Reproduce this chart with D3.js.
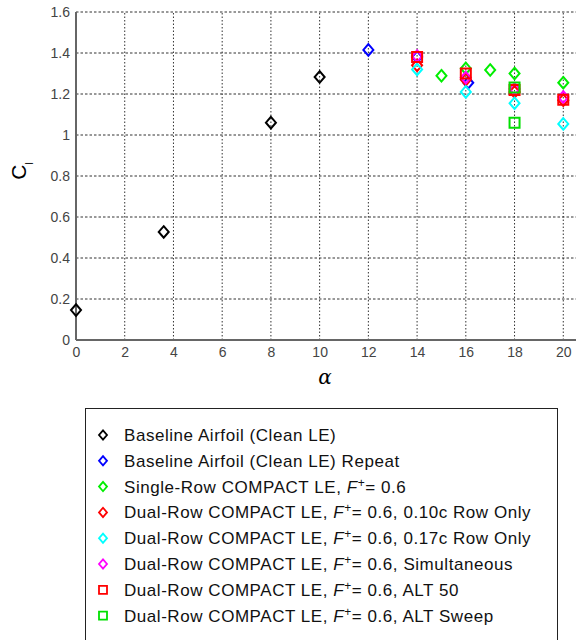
<!DOCTYPE html>
<html><head><meta charset="utf-8">
<script src="https://cdn.jsdelivr.net/npm/d3@7"></script>
<style>body{margin:0;background:#fff;} svg{display:block;}</style>
</head><body>
<script>
// ---- data ----
const xTicks = [0,2,4,6,8,10,12,14,16,18,20];
const yTicks = [0,0.2,0.4,0.6,0.8,1,1.2,1.4,1.6];
const yTickLabels = ["0","0.2","0.4","0.6","0.8","1","1.2","1.4","1.6"];

const baseline      = [[0,0.146],[3.6,0.527],[8,1.06],[10,1.283]];
const baselineRep   = [[12,1.415],[14,1.38],[16.1,1.255]];
const singleRow     = [[15,1.289],[16,1.325],[17,1.317],[18,1.30],[20,1.255]];
const dual010       = [[14,1.34],[16,1.27],[18,1.21],[20,1.17]];
const dual017       = [[14,1.32],[16,1.21],[18,1.155],[20,1.054]];
const dualSim       = [[14,1.385],[16,1.28],[18,1.225],[20,1.185]];
const alt50         = [[14,1.38],[16,1.30],[18,1.22],[20,1.172]];
const altSweep      = [[18,1.232],[18,1.06]];

const seriesNames = [
  "Baseline Airfoil (Clean LE)",
  "Baseline Airfoil (Clean LE) Repeat",
  "Single-Row COMPACT LE, |F|= 0.6",
  "Dual-Row COMPACT LE, |F|= 0.6, 0.10c Row Only",
  "Dual-Row COMPACT LE, |F|= 0.6, 0.17c Row Only",
  "Dual-Row COMPACT LE, |F|= 0.6, Simultaneous",
  "Dual-Row COMPACT LE, |F|= 0.6, ALT 50",
  "Dual-Row COMPACT LE, |F|= 0.6, ALT Sweep"
];
const seriesData = [baseline, baselineRep, singleRow, dual010, dual017, dualSim, alt50, altSweep];
const seriesColors = ["#000000","#0000ff","#00ee00","#ff0000","#00ffff","#ff00ff","#ff0000","#00e000"];
const seriesShapes = ["diamond","diamond","diamond","diamond","diamond","diamond","square","square"];

// ---- drawing ----
const W = 576, H = 640;
const svg = d3.select("body").append("svg").attr("width", W).attr("height", H);

const x = d3.scaleLinear().domain([0,22]).range([76,612]);
const y = d3.scaleLinear().domain([0,1.6]).range([340,12]);

const grid = svg.append("g");
grid.selectAll("line.h").data(yTicks.filter(d=>d>0)).join("line")
  .attr("x1", x(0)).attr("x2", x(22)).attr("y1", d=>y(d)).attr("y2", d=>y(d))
  .attr("stroke","#333").attr("stroke-width",1).attr("stroke-dasharray","2.5,2");
grid.selectAll("line.v").data(xTicks.filter(d=>d>0).concat([22])).join("line")
  .attr("x1", d=>x(d)).attr("x2", d=>x(d)).attr("y1", y(0)).attr("y2", y(1.6))
  .attr("stroke","#333").attr("stroke-width",1).attr("stroke-dasharray","1.5,2");

// axes
const xAxis = d3.axisBottom(x).tickValues(xTicks).tickSize(0).tickPadding(7).tickFormat(d3.format("d"));
const yAxis = d3.axisLeft(y).tickValues(yTicks).tickSize(0).tickPadding(6).tickFormat((d,i)=>yTickLabels[i]);
const gx = svg.append("g").attr("transform",`translate(0,${y(0)})`).call(xAxis);
const gy = svg.append("g").attr("transform",`translate(${x(0)},0)`).call(yAxis);
[gx,gy].forEach(g=>{
  g.select(".domain").attr("stroke","#666").attr("stroke-width",2);
  g.selectAll("text").attr("font-family","Liberation Sans, Arial, sans-serif").attr("font-size",14).attr("fill","#444");
});
gx.select(".domain").attr("d", `M${x(0)},0H${x(22)}`);
gy.select(".domain").attr("d", `M0,${y(0)}V${y(1.6)}`);

// axis labels
const yl = svg.append("text").attr("transform","translate(26,171) rotate(-90)")
  .attr("font-family","Liberation Sans, Arial, sans-serif").attr("fill","#000").attr("text-anchor","middle");
yl.append("tspan").attr("font-size",21).text("C");
yl.append("tspan").attr("font-size",10).attr("dy",7).text("l");
svg.append("text").attr("x",325).attr("y",384).attr("text-anchor","middle")
  .attr("font-family","DejaVu Serif, serif").attr("font-style","italic").attr("font-size",20).text("α");

function shapePath(shape, cx, cy, s){
  if(shape==="diamond"){
    const w = s*0.5, h = s*0.58;
    return `M${cx},${cy-h}L${cx+w},${cy}L${cx},${cy+h}L${cx-w},${cy}Z`;
  } else {
    const h = s*0.5;
    return `M${cx-h},${cy-h}H${cx+h}V${cy+h}H${cx-h}Z`;
  }
}

// markers
const marks = svg.append("g");
seriesData.forEach((data,i)=>{
  marks.append("g").selectAll("path").data(data).join("path")
    .attr("d", d=>shapePath(seriesShapes[i], x(d[0]), y(d[1]), 10))
    .attr("fill","none").attr("stroke", seriesColors[i]).attr("stroke-width", 2);
});

// legend
const lg = svg.append("g");
lg.append("rect").attr("x",85.5).attr("y",408.5).attr("width",472).attr("height",260)
  .attr("fill","#fff").attr("stroke","#222").attr("stroke-width",1);
const rowY = d3.range(seriesNames.length).map(i=>435 + i*25.8);
seriesNames.forEach((name,i)=>{
  lg.append("path").attr("d", shapePath(seriesShapes[i], 103, rowY[i], 8))
    .attr("fill","none").attr("stroke", seriesColors[i]).attr("stroke-width", 1.8);
  const t = lg.append("text").attr("x",124).attr("y",rowY[i]+6)
    .attr("font-family","Liberation Sans, Arial, sans-serif").attr("font-size",17)
    .attr("letter-spacing","0.55").attr("fill","#111");
  const parts = name.split("|");
  if(parts.length===1){ t.text(name); }
  else {
    t.append("tspan").text(parts[0]);
    t.append("tspan").attr("font-style","italic").text(parts[1]);
    t.append("tspan").attr("font-size",12).attr("dy",-6).text("+");
    t.append("tspan").attr("dy",6).text(parts[2]);
  }
});
</script>
</body></html>
